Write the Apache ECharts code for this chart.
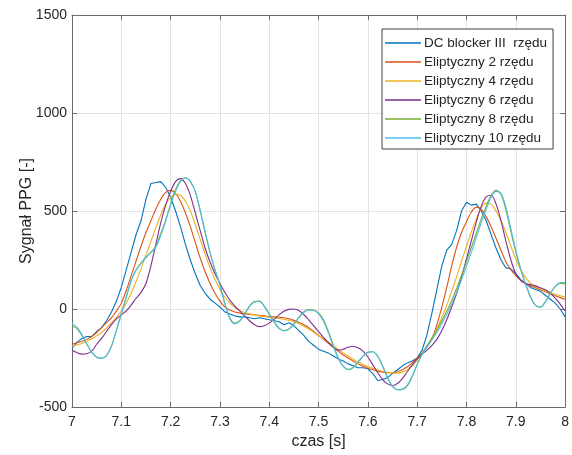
<!DOCTYPE html>
<html>
<head>
<meta charset="utf-8">
<script src="https://cdn.jsdelivr.net/npm/echarts@6/dist/echarts.min.js"></script>
<style>
html,body{margin:0;padding:0;background:#fff;}
#chart{width:572px;height:455px;}
</style>
</head>
<body>
<div id="chart"></div>
<script>
var time = [7.00,7.01,7.02,7.03,7.04,7.05,7.06,7.07,7.08,7.09,
7.10,7.11,7.12,7.13,7.14,7.15,7.16,7.17,7.18,7.19,
7.20,7.21,7.22,7.23,7.24,7.25,7.26,7.27,7.28,7.29,
7.30,7.31,7.32,7.33,7.34,7.35,7.36,7.37,7.38,7.39,
7.40,7.41,7.42,7.43,7.44,7.45,7.46,7.47,7.48,7.49,
7.50,7.51,7.52,7.53,7.54,7.55,7.56,7.57,7.58,7.59,
7.60,7.61,7.62,7.63,7.64,7.65,7.66,7.67,7.68,7.69,
7.70,7.71,7.72,7.73,7.74,7.75,7.76,7.77,7.78,7.79,
7.80,7.81,7.82,7.83,7.84,7.85,7.86,7.87,7.88,7.89,
7.90,7.91,7.92,7.93,7.94,7.95,7.96,7.97,7.98,7.99,8.00];

var seriesNames = ['DC blocker III  rzędu','Eliptyczny 2 rzędu','Eliptyczny 4 rzędu','Eliptyczny 6 rzędu','Eliptyczny 8 rzędu','Eliptyczny 10 rzędu'];

var dcBlocker = [-200,-170,-150,-140,-140,-115,-95,-60,-15,40,
110,200,290,380,450,560,640,645,650,620,
570,500,420,330,250,180,120,80,50,30,
10,-15,-25,-35,-40,-40,-45,-50,-45,-50,
-55,-60,-65,-80,-70,-85,-110,-135,-165,-185,
-205,-215,-225,-240,-255,-265,-280,-290,-300,-300,
-305,-330,-365,-360,-350,-330,-310,-290,-275,-265,
-250,-210,-130,-20,100,220,300,330,400,500,
545,530,535,500,450,380,310,250,210,205,
180,150,130,110,100,90,70,50,30,0,-40];

var elip2 = [-180,-172,-165,-155,-140,-120,-95,-70,-45,-10,
30,95,170,245,320,390,450,510,560,595,
605,590,550,490,420,340,260,190,130,80,
40,10,-5,-15,-20,-25,-28,-30,-32,-35,
-38,-40,-42,-45,-50,-58,-68,-80,-95,-115,
-135,-155,-175,-195,-215,-235,-250,-265,-280,-292,
-302,-310,-317,-322,-325,-325,-320,-310,-295,-275,
-250,-225,-195,-150,-80,10,110,220,315,390,
445,495,520,510,470,420,360,300,240,200,
170,148,130,118,108,98,88,78,68,58,50];

var elip4 = [-190,-183,-176,-165,-152,-137,-120,-97,-70,-42,
-10,30,80,140,205,275,345,415,480,535,
570,585,580,550,500,430,355,280,210,150,
100,60,30,8,-8,-18,-25,-30,-35,-38,
-42,-45,-48,-52,-58,-65,-75,-88,-102,-118,
-135,-152,-170,-188,-206,-224,-240,-256,-270,-283,
-294,-303,-311,-318,-323,-327,-328,-322,-310,-290,
-262,-228,-190,-148,-100,-45,20,90,165,245,
320,395,460,515,540,535,500,450,390,320,
255,200,160,132,115,102,92,83,75,68,62];

var elip6 = [-210,-222,-230,-228,-215,-180,-150,-115,-80,-50,
-30,-10,20,55,85,130,220,330,440,530,
600,650,665,640,580,490,400,310,240,180,
130,85,45,15,-10,-35,-60,-80,-90,-85,
-72,-52,-30,-12,-2,0,-8,-28,-55,-85,
-115,-145,-170,-195,-210,-205,-195,-190,-198,-215,
-245,-285,-325,-360,-382,-390,-380,-355,-320,-285,
-255,-230,-210,-185,-155,-110,-55,10,80,165,
255,350,445,525,572,580,535,450,345,250,
180,145,130,125,118,108,98,80,55,25,-10];

var elip8 = [-85,-100,-135,-180,-220,-245,-252,-238,-190,-110,
-25,60,145,200,235,265,290,320,385,455,
535,610,655,670,650,600,500,390,285,200,
125,30,-45,-72,-60,-25,15,38,40,15,
-25,-65,-98,-110,-102,-75,-42,-15,-3,-5,
-20,-55,-115,-185,-250,-292,-310,-300,-272,-242,
-222,-218,-240,-290,-350,-395,-412,-410,-392,-345,
-285,-228,-185,-148,-108,-60,-12,42,105,172,
242,315,388,460,525,580,605,585,505,395,
290,200,125,60,18,10,38,80,115,130,128];

var elip10 = [-75,-92,-130,-178,-220,-246,-252,-236,-188,-108,
-22,62,145,198,232,262,288,315,375,450,
530,600,650,668,652,598,505,395,290,200,
118,25,-50,-75,-62,-28,12,36,38,12,
-28,-68,-100,-112,-104,-78,-45,-18,-5,-8,
-25,-62,-122,-190,-252,-292,-308,-298,-270,-240,
-220,-218,-242,-293,-352,-396,-412,-408,-388,-340,
-282,-232,-192,-158,-120,-75,-28,25,85,150,
218,290,365,440,510,570,600,590,520,410,
300,205,128,62,18,8,35,78,115,135,135];

var colors = ['#0072BD','#D95319','#EDB120','#7E2F8E','#77AC30','#4DBEEE'];
var allValues = [dcBlocker, elip2, elip4, elip6, elip8, elip10];

var xTicks = {min: 7, max: 8, interval: 0.1};
var yTicks = {min: -500, max: 1500, interval: 500};

function pairs(vals){ return time.map(function(t,i){ return [t, vals[i]]; }); }

var FONT = 'Liberation Sans, Arial, Helvetica, sans-serif';
var axisColor = '#6b6b6b';

var series = allValues.map(function(v, i){
  return {
    name: seriesNames[i],
    type: 'line',
    data: pairs(v),
    showSymbol: false,
    smooth: i === 0 ? false : 0.3,
    lineStyle: {color: colors[i], width: 1.1},
    itemStyle: {color: colors[i]},
    z: 2 + i
  };
});

var chart = echarts.init(document.getElementById('chart'), null, {renderer: 'canvas'});
chart.setOption({
  animation: false,
  backgroundColor: '#ffffff',
  grid: {left: 72, right: 3, top: 15, bottom: 48, containLabel: false},
  legend: {
    show: true,
    data: seriesNames,
    orient: 'vertical',
    left: 382,
    top: 29,
    padding: [7, 6, 4, 3],
    itemGap: 5,
    itemWidth: 36,
    itemHeight: 1.5,
    icon: 'rect',
    backgroundColor: '#ffffff',
    borderColor: '#404040',
    borderWidth: 1,
    borderRadius: 0,
    textStyle: {fontFamily: FONT, fontSize: 13.5, color: '#262626', lineHeight: 14, padding: [0,0,0,-2]}
  },
  xAxis: [{
    type: 'value',
    min: xTicks.min, max: xTicks.max, interval: xTicks.interval,
    position: 'bottom',
    name: 'czas [s]',
    nameLocation: 'middle',
    nameGap: 26,
    nameTextStyle: {fontFamily: FONT, fontSize: 16, color: '#262626'},
    axisLine: {show: true, onZero: false, lineStyle: {color: axisColor, width: 1}},
    axisTick: {show: true, inside: true, length: 5, lineStyle: {color: axisColor}},
    axisLabel: {fontFamily: FONT, fontSize: 14, color: '#262626', margin: 8,
      formatter: function(v){ return String(Number(v.toFixed(1))); }},
    splitLine: {show: true, lineStyle: {color: '#e3e3e3', width: 1}}
  }, {
    type: 'value',
    min: xTicks.min, max: xTicks.max, interval: xTicks.interval,
    position: 'top',
    axisLine: {show: true, onZero: false, lineStyle: {color: axisColor, width: 1}},
    axisTick: {show: true, inside: true, length: 5, lineStyle: {color: axisColor}},
    axisLabel: {show: false},
    splitLine: {show: false}
  }],
  yAxis: [{
    type: 'value',
    min: yTicks.min, max: yTicks.max, interval: yTicks.interval,
    position: 'left',
    name: 'Sygnał PPG [-]',
    nameLocation: 'middle',
    nameGap: 37,
    nameMoveOverlap: false,
    nameTextStyle: {fontFamily: FONT, fontSize: 16, color: '#262626'},
    axisLine: {show: true, onZero: false, lineStyle: {color: axisColor, width: 1}},
    axisTick: {show: true, inside: true, length: 5, lineStyle: {color: axisColor}},
    axisLabel: {fontFamily: FONT, fontSize: 14, color: '#262626', margin: 5,
      formatter: function(v){ return String(v); }},
    splitLine: {show: true, lineStyle: {color: '#e3e3e3', width: 1}}
  }, {
    type: 'value',
    min: yTicks.min, max: yTicks.max, interval: yTicks.interval,
    position: 'right',
    axisLine: {show: true, onZero: false, lineStyle: {color: axisColor, width: 1}},
    axisTick: {show: true, inside: true, length: 5, lineStyle: {color: axisColor}},
    axisLabel: {show: false},
    splitLine: {show: false}
  }],
  series: series
});
</script>
</body>
</html>
